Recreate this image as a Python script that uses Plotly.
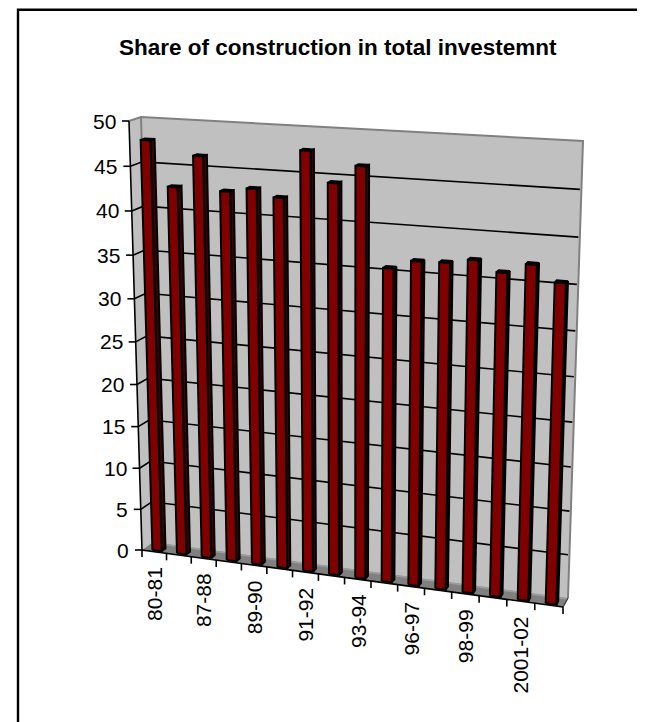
import numpy as np
import plotly.graph_objects as go

# ---- data ----
categories = ["80-81","82-83","87-88","88-89","89-90","90-91","91-92","92-93",
              "93-94","95-96","96-97","97-98","98-99","99-00","2001-02","2002-03"]
tick_labels = ["80-81","","87-88","","89-90","","91-92","","93-94","","96-97","","98-99","","2001-02",""]
share = [47.9,42.9,46.5,42.8,43.3,42.5,47.8,44.5,46.5,35.7,36.7,36.8,37.3,36.2,37.3,35.6]
y_ticks = [0,5,10,15,20,25,30,35,40,45,50]
title = "Share of construction in total investemnt"

FONT = "Liberation Sans, Arial, sans-serif"
BAR, BAR_SIDE, BAR_TOP = "#800000", "#400000", "#600000"
WALL, FLOOR, FLOOR_BAND, EDGE = "#C0C0C0", "#808080", "#9C9C9C", "#808080"

def homography(dst):
    src = [(0,0),(1,0),(1,1),(0,1)]
    A, b = [], []
    for (u,v),(x,y) in zip(src,dst):
        A.append([u,v,1,0,0,0,-u*x,-v*x]); b.append(x)
        A.append([0,0,0,u,v,1,-u*y,-v*y]); b.append(y)
    h = np.linalg.solve(np.array(A,float),np.array(b,float))
    return np.append(h,1).reshape(3,3)

# plot box corners, as seen on screen: front plane and back wall
H_front = homography([(142,550),(563,607),(577,146),(129,121)])
H_back  = homography([(153,542),(568,598),(583,141),(141,117)])
N = len(categories)
VMAX = 50.0

def P(cat, val, depth):
    """category units, value units, depth 0 (front) to 1 (back wall)"""
    q = np.array([cat/N, val/VMAX, 1.0])
    a = H_front @ q; a = a[:2]/a[2]
    b = H_back @ q;  b = b[:2]/b[2]
    return tuple(a + (b-a)*depth)

fig = go.Figure()

def poly(points, fill, line=None, width=2, name=""):
    xs = [p[0] for p in points]+[points[0][0]]
    ys = [p[1] for p in points]+[points[0][1]]
    fig.add_trace(go.Scatter(x=xs,y=ys,mode="lines",fill="toself",fillcolor=fill,
        line=dict(color=line or fill,width=width if line else 0),hoverinfo="skip",name=name,showlegend=False))

def seg(points, color="black", width=1.6):
    fig.add_trace(go.Scatter(x=[p[0] for p in points],y=[p[1] for p in points],mode="lines",
        line=dict(color=color,width=width),hoverinfo="skip",showlegend=False))

# walls and floor
poly([P(0,0,0),P(0,0,1),P(0,VMAX,1),P(0,VMAX,0)],WALL)
poly([P(0,0,1),P(N,0,1),P(N,VMAX,1),P(0,VMAX,1)],WALL)
poly([P(0,0,0),P(N,0,0),P(N,0,1),P(0,0,1)],FLOOR)
poly([P(0,0,0.8),P(N,0,0.8),P(N,0,1),P(0,0,1)],FLOOR_BAND)
seg([P(0,VMAX,0),P(0,VMAX,1),P(N,VMAX,1),P(N,0,1)],EDGE,2)
seg([P(0,VMAX,1),P(0,0,1)],EDGE,2)
seg([P(N,0,1),P(N,0,0)],"#404040",1.4)

# gridlines
for v in y_ticks[1:-1]:
    seg([P(0,v,0),P(0,v,1),P(N-0.05,v,1)])

# axes
seg([P(0,VMAX,0),P(0,0,0),P(N,0,0)])
for v in y_ticks:
    a = P(0,v,0)
    seg([(a[0]-7,a[1]),a])
    fig.add_annotation(x=a[0]-11,y=a[1],text=str(v),showarrow=False,xanchor="right",yanchor="middle",
                       font=dict(family=FONT,size=21,color="black"))
for i in range(N+1):
    a = P(i,0,0)
    seg([a,(a[0],a[1]+7)])
for i,t in enumerate(tick_labels):
    if t:
        a = P(i+0.5,0,0)
        fig.add_annotation(x=a[0],y=a[1]+13,text=t,showarrow=False,textangle=-90,xanchor="center",yanchor="top",
                           font=dict(family=FONT,size=21,color="black"))

# bars
L,R = 0.36,0.74
D0,D1 = 0.15,0.5
for i,v in enumerate(share):
    a,b = i+L,i+R
    poly([P(b,0,D0),P(b,0,D1),P(b,v,D1),P(b,v,D0)],BAR_SIDE,"black",name=categories[i])
    poly([P(a,v,D0),P(b,v,D0),P(b,v,D1),P(a,v,D1)],BAR_TOP,"black",name=categories[i])
    poly([P(a,0,D0),P(b,0,D0),P(b,v,D0),P(a,v,D0)],BAR,"black",name=categories[i])

fig.add_annotation(x=337.5,y=47,text="<b>%s</b>"%title,showarrow=False,xanchor="center",yanchor="middle",
                   font=dict(family=FONT,size=22.5,color="black"))
# frame: only its top and left sides fall inside the picture
seg([(645,9.7),(18,9.7),(18,722)],"black",2.4)

# the page puts the plot 8px in from its corner: the ranges below keep page-pixel units
fig.update_layout(width=637,height=714,margin=dict(l=0,r=0,t=0,b=0),paper_bgcolor="white",plot_bgcolor="white",
    showlegend=False,
    xaxis=dict(range=[8,645],visible=False,fixedrange=True),
    yaxis=dict(range=[722,8],visible=False,fixedrange=True))
fig.write_html("out.html",config=dict(displayModeBar=False))
